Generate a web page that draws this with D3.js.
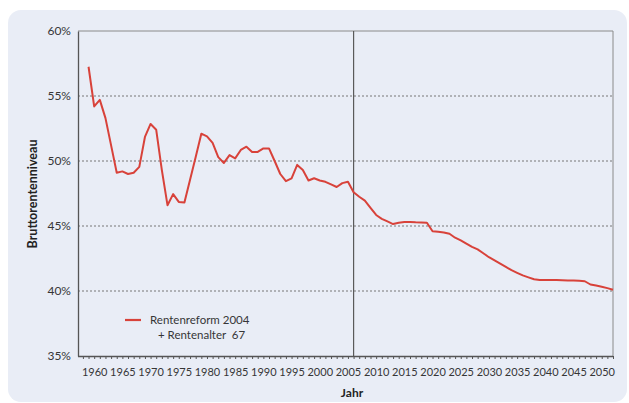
<!DOCTYPE html>
<html>
<head>
<meta charset="utf-8">
<script src="https://cdn.jsdelivr.net/npm/d3@7"></script>
<style>
  html, body { margin: 0; padding: 0; background: #ffffff; }
  svg { display: block; }
</style>
</head>
<body>
<div id="chart"></div>
<script>
// ---- data ----
const years = d3.range(1959, 2053);
const rentenniveau = [
  57.25, 54.2, 54.7, 53.3, 51.2, 49.1, 49.2, 49.0, 49.1, 49.55,   // 1959-1968
  51.85, 52.85, 52.4, 49.3, 46.6, 47.45, 46.85, 46.8, 48.55, 50.3, // 1969-1978
  52.1, 51.9, 51.4, 50.3, 49.85, 50.45, 50.2, 50.85, 51.1, 50.7,   // 1979-1988
  50.7, 50.97, 50.97, 50.0, 49.0, 48.45, 48.67, 49.7, 49.3, 48.5,  // 1989-1998
  48.67, 48.5, 48.4, 48.2, 48.0, 48.3, 48.4, 47.6, 47.25, 46.95,   // 1999-2008
  46.4, 45.85, 45.55, 45.35, 45.15, 45.25, 45.3, 45.3, 45.28, 45.27, // 2009-2018
  45.25, 44.6, 44.55, 44.5, 44.4, 44.1, 43.9, 43.65, 43.4, 43.2,   // 2019-2028
  42.9, 42.6, 42.35, 42.1, 41.85, 41.6, 41.4, 41.2, 41.05, 40.9,   // 2029-2038
  40.85, 40.85, 40.85, 40.85, 40.83, 40.8, 40.8, 40.78, 40.75, 40.5, // 2039-2048
  40.42, 40.33, 40.22, 40.1                                         // 2049-2052
];
const yTicks = [35, 40, 45, 50, 55, 60];
const xLabelYears = d3.range(1960, 2051, 5);
const markerYear = 2006;
const seriesName = ["Rentenreform 2004", "+ Rentenalter  67"];
const yTitle = "Bruttorentenniveau";
const xTitle = "Jahr";

// ---- layout ----
const W = 629, H = 403;
const pL = 78, pR = 613, pT = 31, pB = 356;
const font = "Lato, 'Open Sans', sans-serif";
const textCol = "#363636";

const svg = d3.select("#chart").append("svg")
  .attr("width", W).attr("height", H);

// panel
svg.append("rect")
  .attr("x", 8).attr("y", 10).attr("width", 619).attr("height", 392)
  .attr("rx", 13).attr("fill", "#e9edf6");

const x = d3.scaleLinear().domain([1957.13, 2052]).range([pL, pR]);
const y = d3.scaleLinear().domain([35, 60]).range([pB, pT]);

// gridlines
svg.append("g").selectAll("line")
  .data(yTicks.filter(v => v > 35 && v < 60))
  .join("line")
  .attr("x1", pL).attr("x2", pR)
  .attr("y1", d => y(d)).attr("y2", d => y(d))
  .attr("stroke", "#777").attr("stroke-width", 1)
  .attr("stroke-dasharray", "2,2");

// frame top and right
svg.append("line").attr("x1", pL).attr("x2", pR).attr("y1", pT).attr("y2", pT)
  .attr("stroke", "#8a8a8a").attr("stroke-width", 1);
svg.append("line").attr("x1", pR).attr("x2", pR).attr("y1", pT).attr("y2", pB)
  .attr("stroke", "#8a8a8a").attr("stroke-width", 1);

// vertical marker
svg.append("line")
  .attr("x1", x(markerYear)).attr("x2", x(markerYear))
  .attr("y1", pT).attr("y2", pB)
  .attr("stroke", "#5a5a5a").attr("stroke-width", 1.2);

// y axis
const yAxis = d3.axisLeft(y).tickValues(yTicks).tickSize(0).tickPadding(7)
  .tickFormat(d => d + "%");
const gy = svg.append("g").attr("transform", `translate(${pL},0)`).call(yAxis);
gy.select(".domain").attr("stroke", "#555").attr("stroke-width", 1.3);
gy.selectAll("text").attr("font-family", font).attr("font-size", 12)
  .attr("fill", textCol);

// x axis: yearly ticks
const xAxis = d3.axisBottom(x).tickValues(d3.range(1958, 2053)).tickSize(3)
  .tickSizeOuter(0)
  .tickFormat(d => xLabelYears.includes(d) ? d : "");
const gx = svg.append("g").attr("transform", `translate(0,${pB})`).call(xAxis);
gx.select(".domain").attr("stroke", "#555").attr("stroke-width", 1.3)
  .attr("d", `M${pL},0.5H${pR}`);
gx.selectAll(".tick line").attr("stroke", "#555");
gx.selectAll("text").attr("font-family", font).attr("font-size", 11)
  .attr("fill", textCol).attr("dy", "1.25em");

// line
const data = years.map((yr, i) => ({ yr, v: rentenniveau[i] }));
svg.append("path")
  .datum(data)
  .attr("fill", "none")
  .attr("stroke", "#d8423a")
  .attr("stroke-width", 2)
  .attr("stroke-linejoin", "round")
  .attr("d", d3.line().x(d => x(d.yr)).y(d => y(d.v)));

// axis titles
svg.append("text")
  .attr("transform", `translate(37,194) rotate(-90)`)
  .attr("text-anchor", "middle")
  .attr("font-family", font).attr("font-weight", "bold").attr("font-size", 12.5)
  .attr("fill", "#222").text(yTitle);
svg.append("text")
  .attr("x", 352).attr("y", 397)
  .attr("text-anchor", "middle")
  .attr("font-family", font).attr("font-weight", "bold").attr("font-size", 12)
  .attr("fill", "#222").text(xTitle);

// legend
svg.append("line").attr("x1", 125).attr("x2", 141).attr("y1", 320).attr("y2", 320)
  .attr("stroke", "#d8423a").attr("stroke-width", 2.2);
svg.append("text").attr("x", 150).attr("y", 324)
  .attr("font-family", font).attr("font-size", 11.5).attr("fill", textCol)
  .text(seriesName[0]);
svg.append("text").attr("x", 158).attr("y", 339)
  .attr("font-family", font).attr("font-size", 11.5).attr("fill", textCol)
  .style("white-space", "pre")
  .text(seriesName[1]);
</script>
</body>
</html>
